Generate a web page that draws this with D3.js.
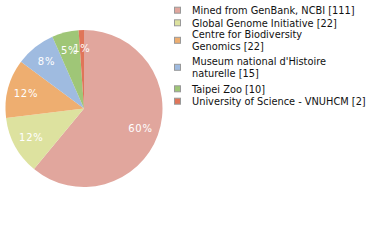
<!DOCTYPE html>
<html><head><meta charset="utf-8">
<script src="https://cdn.jsdelivr.net/npm/d3@7"></script>
<style>html,body{margin:0;padding:0;background:#fff;}</style>
</head><body>
<svg id="c" width="380" height="240"></svg>
<script>
const categories = [
  ["Mined from GenBank, NCBI [111]"],
  ["Global Genome Initiative [22]"],
  ["Centre for Biodiversity", "Genomics [22]"],
  ["Museum national d'Histoire", "naturelle [15]"],
  ["Taipei Zoo [10]"],
  ["University of Science - VNUHCM [2]"]
];
const values = [111, 22, 22, 15, 10, 2];
const colors = ["#e1a69d", "#dde29f", "#eeae70", "#9fbbe0", "#9fc677", "#e07559"];

const svg = d3.select("#c");
const cx = 84, cy = 108.5, R = 78.5, LR = 60;
const total = d3.sum(values);
const pie = d3.pie().sort(null).value(d => d)(values);
const arc = d3.arc().innerRadius(0).outerRadius(R);
const larc = d3.arc().innerRadius(LR).outerRadius(LR);
const g = svg.append("g").attr("transform", `translate(${cx},${cy})`);
g.selectAll("path").data(pie).join("path")
  .attr("d", arc).attr("fill", (d, i) => colors[i]);
g.selectAll("text").data(pie).join("text")
  .attr("transform", d => `translate(${larc.centroid(d)})`)
  .attr("text-anchor", "middle").attr("dy", "0.35em")
  .attr("fill", "#fff").attr("font-family", "DejaVu Sans").attr("font-size", 10)
  .attr("letter-spacing", 0.8)
  .text(d => Math.floor(d.data / total * 100) + "%");

const itemY = [10.7, 23.3, 35, 62, 89.3, 101.7];
const lineH = 11.6;
const leg = svg.append("g");
categories.forEach((lines, i) => {
  const y0 = itemY[i];
  const mid = y0 + (lines.length - 1) * lineH / 2;
  leg.append("rect").attr("x", 174.5).attr("y", mid - 3.5).attr("width", 6).attr("height", 6)
    .attr("fill", colors[i]).attr("stroke", "#999").attr("stroke-width", 1);
  lines.forEach((t, j) => {
    leg.append("text").attr("x", 192).attr("y", y0 + j * lineH).attr("dy", "0.35em")
      .attr("font-family", "DejaVu Sans").attr("font-size", 9.8).attr("fill", "#111")
      .text(t);
  });
});
</script>
</body></html>
